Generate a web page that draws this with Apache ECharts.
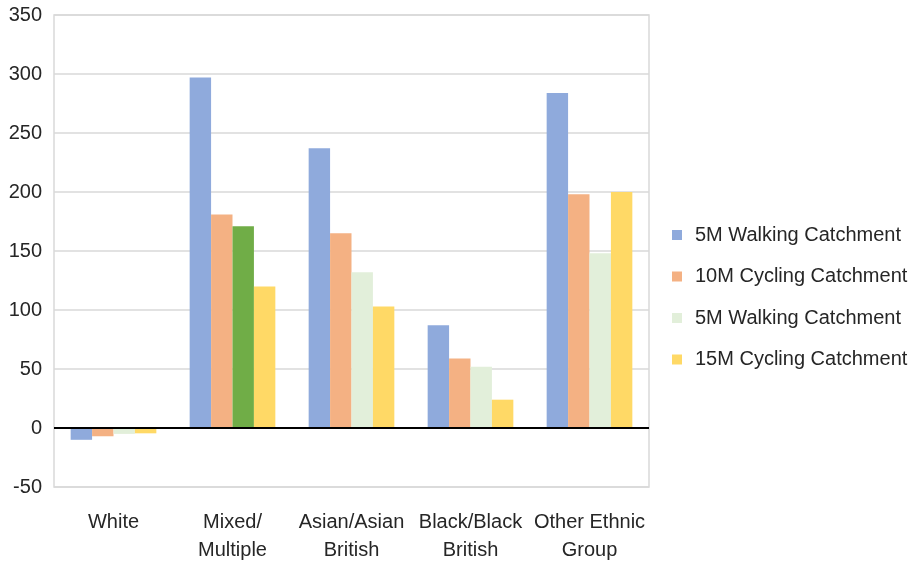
<!DOCTYPE html>
<html>
<head>
<meta charset="utf-8">
<script src="https://cdn.jsdelivr.net/npm/echarts@6/dist/echarts.min.js"></script>
<style>
  html, body { margin: 0; padding: 0; background: #fff; }
  #chart { width: 909px; height: 564px; }
</style>
</head>
<body>
<div id="chart"></div>
<script>
// Change in population by ethnic group within each catchment
const categories = ['White', 'Mixed/\nMultiple', 'Asian/Asian\nBritish', 'Black/Black\nBritish', 'Other Ethnic\nGroup'];
const seriesNames = ['5M Walking Catchment', '10M Cycling Catchment', '5M Walking Catchment ', '15M Cycling Catchment'];
const walking5 = [-10, 297, 237, 87, 284];
const cycling10 = [-7, 181, 165, 59, 198];
const walking5b = [-5, 171, 132, 52, 148];
const cycling15 = [-4.5, 120, 103, 24, 200];
const yTicks = { min: -50, max: 350, interval: 50 };

const colors = ['#8faadc', '#f4b183', '#e2efda', '#ffd966'];
const highlightGreen = '#70ad47';

const font = "'Liberation Sans', Arial, sans-serif";
const textColor = '#262626';

function barSeries(name, values, color, extra) {
  return Object.assign({
    name: name,
    type: 'bar',
    data: values,
    itemStyle: { color: color },
    barGap: '0%',
    barCategoryGap: '28%'
  }, extra || {});
}

// third series: the Mixed/Multiple bar is drawn in a stronger green
const walking5bData = walking5b.map((v, i) =>
  i === 1 ? { value: v, itemStyle: { color: highlightGreen } } : v);

const chart = echarts.init(document.getElementById('chart'), null, { renderer: 'canvas' });
chart.setOption({
  animation: false,
  backgroundColor: '#ffffff',
  grid: {
    left: 54, right: 260, top: 15, bottom: 75,
    show: true, borderColor: '#d9d9d9', borderWidth: 1.5, backgroundColor: 'transparent'
  },
  legend: {
    orient: 'vertical',
    left: 667,
    top: 220,
    icon: 'rect',
    itemWidth: 10,
    itemHeight: 10,
    itemGap: 21.5,
    data: seriesNames,
    formatter: n => n.trim(),
    textStyle: { fontFamily: font, fontSize: 20, color: textColor, lineHeight: 20, padding: [0, 0, 0, 8] }
  },
  xAxis: {
    type: 'category',
    data: categories,
    axisLine: { show: false },
    axisTick: { show: false },
    axisLabel: {
      fontFamily: font, fontSize: 20, color: textColor,
      lineHeight: 28, margin: 21, interval: 0
    },
    splitLine: { show: false }
  },
  yAxis: {
    type: 'value',
    min: yTicks.min, max: yTicks.max, interval: yTicks.interval,
    axisLine: { show: false },
    axisTick: { show: false },
    axisLabel: { fontFamily: font, fontSize: 20, color: textColor, margin: 12 },
    splitLine: { lineStyle: { color: '#d9d9d9', width: 1.5 } }
  },
  series: [
    barSeries(seriesNames[0], walking5, colors[0], {
      markLine: {
        silent: true,
        symbol: 'none',
        label: { show: false },
        lineStyle: { color: '#000', width: 2, type: 'solid' },
        data: [{ yAxis: 0 }],
        z: 10
      }
    }),
    barSeries(seriesNames[1], cycling10, colors[1]),
    barSeries(seriesNames[2], walking5bData, colors[2]),
    barSeries(seriesNames[3], cycling15, colors[3])
  ]
});
</script>
</body>
</html>
